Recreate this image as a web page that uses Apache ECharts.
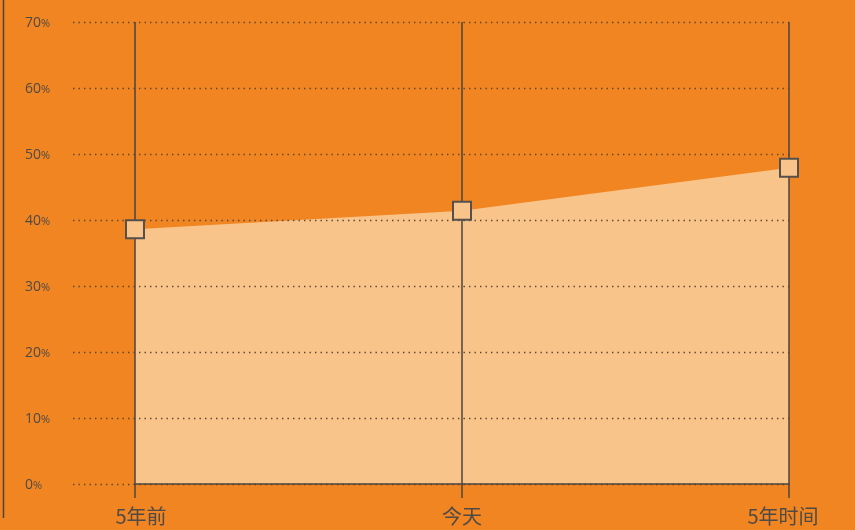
<!DOCTYPE html>
<html>
<head>
<meta charset="utf-8">
<script src="https://cdn.jsdelivr.net/npm/echarts@6/dist/echarts.min.js"></script>
<style>
  html, body { margin: 0; padding: 0; background: #f08522; }
  #chart { width: 855px; height: 530px; }
</style>
</head>
<body>
<div id="chart"></div>
<script>
// Time points along the horizontal axis
const categories = ['5年前', '今天', '5年时间'];
// Share (%) at each time point
const shareValues = [38.6, 41.4, 47.9];
// Vertical scale
const yMin = 0;
const yMax = 70;
const yStep = 10;

const darkLine = '#4b4540';
const labelColor = '#4f4a45';
const fillColor = '#f9c48a';

const chart = echarts.init(document.getElementById('chart'), null, { renderer: 'canvas' });

const catFont = '"Noto Sans CJK SC", "Noto Sans", sans-serif';
const numFont = '"Open Sans", "Noto Sans", sans-serif';

chart.setOption({
  backgroundColor: '#f08522',
  animation: false,
  grid: [
    // plot area: spans first to last category
    { left: 135, right: 66, top: 22, bottom: 46 },
    // guide area: dotted grid lines and percent labels start further left
    { left: 73, right: 66, top: 22, bottom: 46 }
  ],
  xAxis: [
    {
      type: 'category',
      gridIndex: 0,
      data: categories,
      boundaryGap: false,
      z: 3,
      axisLine: { show: true, lineStyle: { color: darkLine, width: 1.5 } },
      axisTick: { show: true, length: 14, lineStyle: { color: darkLine, width: 1.5 } },
      splitLine: { show: true, lineStyle: { color: darkLine, width: 1.5 } },
      axisLabel: {
        margin: 22,
        color: labelColor,
        formatter: function (v, i) {
          // outer labels sit slightly inward from their tick
          const key = i === 0 ? 'first' : (i === categories.length - 1 ? 'last' : 'mid');
          return '{' + key + '|' + v + '}';
        },
        rich: {
          first: { fontSize: 20, color: labelColor, fontFamily: catFont, padding: [0, 0, 0, 12] },
          mid: { fontSize: 20, color: labelColor, fontFamily: catFont },
          last: { fontSize: 20, color: labelColor, fontFamily: catFont, padding: [0, 12, 0, 0] }
        }
      }
    },
    {
      type: 'value',
      gridIndex: 1,
      show: false
    }
  ],
  yAxis: [
    {
      type: 'value',
      gridIndex: 0,
      min: yMin,
      max: yMax,
      interval: yStep,
      show: false
    },
    {
      type: 'value',
      gridIndex: 1,
      min: yMin,
      max: yMax,
      interval: yStep,
      z: 3,
      axisLine: { show: false },
      axisTick: { show: false },
      splitLine: {
        show: true,
        lineStyle: { color: '#5a4532', width: 1.3, type: [1.4, 4.1] }
      },
      axisLabel: {
        align: 'left',
        margin: 48,
        color: labelColor,
        formatter: function (v) { return '{n|' + v + '}{p|%}'; },
        rich: {
          n: { fontSize: 14, color: labelColor, fontFamily: numFont, padding: [3, 0, 0, 0] },
          p: { fontSize: 11, color: labelColor, fontFamily: numFont, padding: [3, 0, 0, 0] }
        }
      }
    }
  ],
  graphic: [
    {
      type: 'line',
      shape: { x1: 3.5, y1: 0, x2: 3.5, y2: 518 },
      style: { stroke: darkLine, lineWidth: 1.5 },
      silent: true
    }
  ],
  series: [
    {
      type: 'line',
      xAxisIndex: 0,
      yAxisIndex: 0,
      data: shareValues,
      z: 1,
      showSymbol: false,
      lineStyle: { width: 0, opacity: 0 },
      areaStyle: { color: fillColor, opacity: 1 }
    },
    {
      type: 'line',
      xAxisIndex: 0,
      yAxisIndex: 0,
      data: shareValues,
      z: 5,
      symbol: 'rect',
      symbolSize: 18,
      showSymbol: true,
      lineStyle: { width: 0, opacity: 0 },
      itemStyle: { color: fillColor, borderColor: '#55504b', borderWidth: 2, opacity: 1 }
    }
  ]
});
</script>
</body>
</html>
